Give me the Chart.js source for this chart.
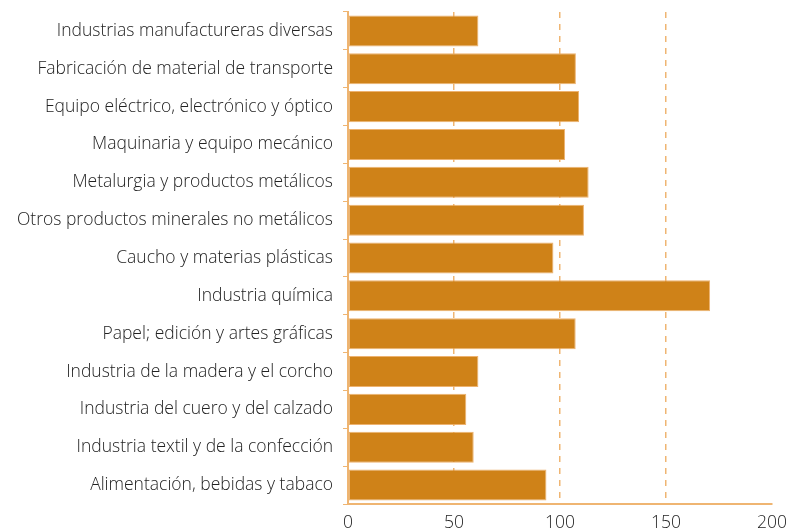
<!DOCTYPE html>
<html>
<head>
<meta charset="utf-8">
<script src="https://cdn.jsdelivr.net/npm/chart.js@4.4.0/dist/chart.umd.min.js"></script>
<style>
  html, body { margin: 0; padding: 0; background: #fff; }
  #wrap { width: 787px; height: 530px; }
</style>
</head>
<body>
<div id="wrap"><canvas id="chart" width="787" height="530"></canvas></div>
<script>
const sectores = [
  "Industrias manufactureras diversas",
  "Fabricación de material de transporte",
  "Equipo eléctrico, electrónico y óptico",
  "Maquinaria y equipo mecánico",
  "Metalurgia y productos metálicos",
  "Otros productos minerales no metálicos",
  "Caucho y materias plásticas",
  "Industria química",
  "Papel; edición y artes gráficas",
  "Industria de la madera y el corcho",
  "Industria del cuero y del calzado",
  "Industria textil y de la confección",
  "Alimentación, bebidas y tabaco"
];
const valores = [61.5, 107.5, 109, 102.4, 113.5, 111.3, 96.9, 170.8, 107.4, 61.5, 55.8, 59.3, 93.6];
const ejeX = { min: 0, max: 200, step: 50 };

const naranja = "#CF8218";
const naranjaClaro = "#EFB572";
const fuente = "'Open Sans', 'Liberation Sans', Arial, sans-serif";

const ctx = document.getElementById("chart").getContext("2d");
new Chart(ctx, {
  type: "bar",
  data: {
    labels: sectores,
    datasets: [{
      data: valores,
      backgroundColor: naranja,
      borderColor: "rgba(235,170,95,0.9)",
      borderWidth: 1,
      borderSkipped: false,
      barPercentage: 0.82,
      categoryPercentage: 1
    }]
  },
  options: {
    indexAxis: "y",
    responsive: false,
    animation: false,
    layout: { padding: { top: 12, right: 15, left: 0, bottom: 0 } },
    plugins: { legend: { display: false }, tooltip: { enabled: false } },
    scales: {
      x: {
        min: ejeX.min,
        max: ejeX.max,
        ticks: {
          stepSize: ejeX.step,
          color: "#222",
          font: { family: fuente, size: 17.5, weight: "300" },
          padding: 9
        },
        grid: {
          color: (c) => (c.tick && (c.tick.value === 0 || c.tick.value === 200)) ? "rgba(0,0,0,0)" : naranjaClaro,
          lineWidth: 1.5,
          drawTicks: false
        },
        border: { color: naranjaClaro, width: 2, dash: [6, 6] },
        afterFit: (s) => { s.height = 26; s.paddingRight = 0; s.paddingLeft = 0; }
      },
      y: {
        ticks: {
          color: "#222",
          font: { family: fuente, size: 17.5, weight: "300" },
          padding: 10
        },
        grid: {
          offset: true,
          drawOnChartArea: false,
          color: naranjaClaro,
          tickLength: 5
        },
        border: { color: naranjaClaro, width: 2 },
        afterFit: (s) => { s.width = 348; s.paddingTop = 0; s.paddingBottom = 0; }
      }
    }
  }
});
</script>
</body>
</html>
